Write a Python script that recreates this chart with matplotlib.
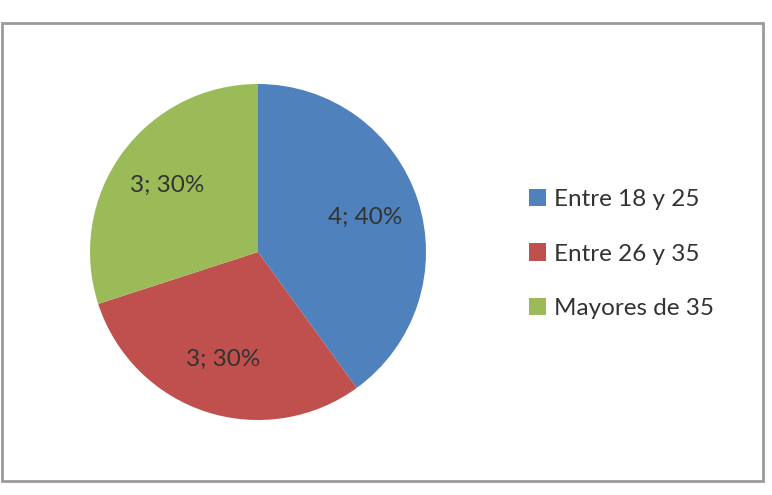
import matplotlib.pyplot as plt
from matplotlib.patches import Rectangle

categorias = ["Entre 18 y 25", "Entre 26 y 35", "Mayores de 35"]
valores = [4, 3, 3]
colores = ["#4F81BD", "#C0504D", "#9BBB59"]

plt.rcParams['font.family'] = ['Lato', 'DejaVu Sans']

fig = plt.figure(figsize=(7.72, 4.95), dpi=100)

# marco gris del grafico
fig.patches.append(Rectangle((2 / 772, 1 - 481 / 495), 761 / 772, 458 / 495,
                             transform=fig.transFigure, fill=False,
                             edgecolor="#9a9a9a", linewidth=2))

ax = fig.add_axes([90 / 772, (495 - 252 - 168) / 495, 336 / 772, 336 / 495])
total = sum(valores)


def etiqueta(p):
    n = int(round(p * total / 100))
    return "%d; %d%%" % (n, round(p))


wedges, texts, autotexts = ax.pie(valores, colors=colores, startangle=90,
                                  counterclock=False, radius=1,
                                  autopct=etiqueta, pctdistance=0.67,
                                  wedgeprops=dict(edgecolor="none"),
                                  textprops=dict(fontsize=17.5, color="#333333"))
ax.set_xlim(-1, 1)
ax.set_ylim(-1, 1)
ax.set_aspect("equal")

leg = fig.legend(wedges, categorias, loc="center left",
                 bbox_to_anchor=(507 / 772, 1 - 254 / 495), frameon=False,
                 fontsize=17.5, handlelength=0.7, handleheight=0.7,
                 handletextpad=0.33, labelspacing=1.38)
for t in leg.get_texts():
    t.set_color("#333333")

fig.savefig("out.png", dpi=100)
